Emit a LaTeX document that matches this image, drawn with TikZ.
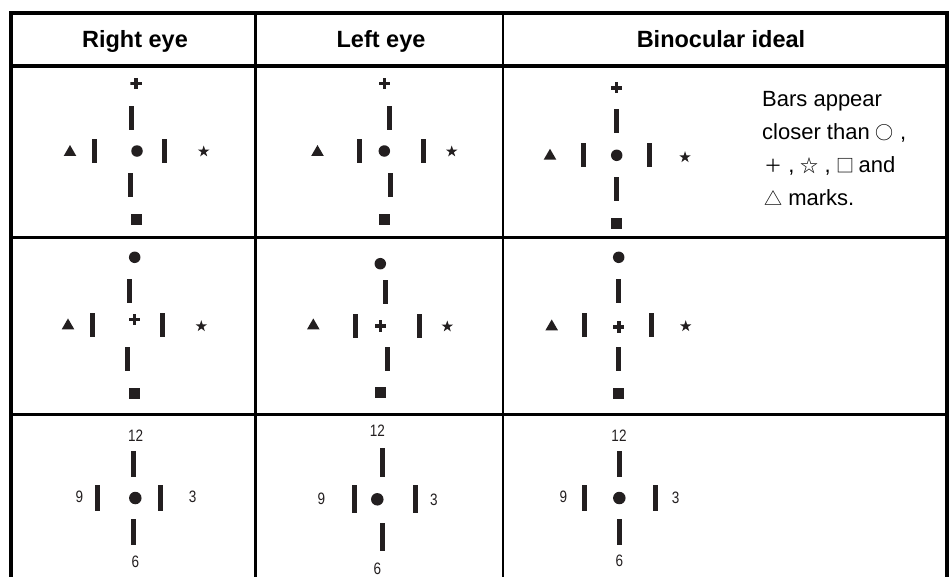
\documentclass[tikz,border=0pt]{standalone}
\usepackage{fontspec}
\setmainfont{Liberation Sans}
\newfontfamily\narrowfont{Liberation Sans}[FakeStretch=0.82]
\newfontfamily\symfont{Noto Sans CJK JP}
\usetikzlibrary{shapes.geometric}
\definecolor{ink}{HTML}{231F20}
\tikzset{
  rule/.style={draw=black, line width=3.5pt},
  thinrule/.style={draw=black, line width=2.3pt},
  vbar/.style={rectangle, fill=ink, inner sep=0pt, minimum width=5pt, minimum height=24pt},
  tbar/.style={vbar, minimum height=25.7pt},
  lbar/.style={vbar, minimum height=28.5pt},
  dotm/.style={circle, fill=ink, inner sep=0pt, minimum size=11.5pt},
  bdot/.style={dotm, minimum size=12.5pt},
  sqm/.style={rectangle, fill=ink, inner sep=0pt, minimum size=11pt},
  trim/.style={regular polygon, regular polygon sides=3, fill=ink, inner sep=0pt, minimum size=14.5pt},
  starm/.style={star, star points=5, star point ratio=2.6, fill=ink, inner sep=0pt, minimum size=12pt},
  plusm/.style={rectangle, inner sep=0pt, minimum size=11.5pt,
    path picture={
      \fill[ink] ([xshift=-1.8pt]path picture bounding box.north) rectangle ([xshift=1.8pt]path picture bounding box.south);
      \fill[ink] ([yshift=1.8pt]path picture bounding box.west) rectangle ([yshift=-1.8pt]path picture bounding box.east);
    }},
  head/.style={font=\bfseries\fontsize{23.5}{27}\selectfont, anchor=base, inner sep=0pt},
  num/.style={font=\narrowfont\fontsize{16.5}{18}\selectfont, text=ink, inner sep=0pt},
  note/.style={font=\fontsize{22}{26}\selectfont, anchor=base west, inner sep=0pt},
}
\newcommand{\sy}[1]{{\symfont\fontsize{18}{20}\selectfont #1}}
\begin{document}
\begin{tikzpicture}[x=1pt,y=-1pt]
\useasboundingbox[fill=white] (0,0) rectangle (949,576);
% table rules
\coordinate (tl) at (9,12.8);   \coordinate (tr) at (949,12.8);
\coordinate (h1l) at (9,66);    \coordinate (h1r) at (949,66);
\coordinate (h2l) at (9,237.5); \coordinate (h2r) at (949,237.5);
\coordinate (h3l) at (9,414.5); \coordinate (h3r) at (949,414.5);
\coordinate (lt) at (11,11);    \coordinate (lb) at (11,580);
\coordinate (rt) at (947,11);   \coordinate (rb) at (947,580);
\coordinate (c1t) at (255.5,12); \coordinate (c1b) at (255.5,580);
\coordinate (c2t) at (503,12);   \coordinate (c2b) at (503,580);
\draw[rule] (tl) -- (tr);
\draw[rule] (h1l) -- (h1r);
\draw[rule] (h2l) -- (h2r);
\draw[rule] (h3l) -- (h3r);
\draw[rule] (lt) -- (lb);
\draw[rule] (rt) -- (rb);
\draw[thinrule] (c1t) -- (c1b);
\draw[thinrule] (c2t) -- (c2b);
% headers
\node[head] (hR) at (135,47.5) {Right eye};
\node[head] (hL) at (381,47.5) {Left eye};
\node[head] (hB) at (721,47.5) {Binocular ideal};
% ---------- row 1 ----------
\node[plusm] (a1p) at (136,83.3) {};
\node[vbar] (a1t) at (131.5,118) {};
\node[trim] (a1tri) at (70,152.3) {};
\node[vbar] (a1l) at (94.8,151) {};
\node[dotm] (a1c) at (137,151) {};
\node[vbar] (a1r) at (164.5,151) {};
\node[starm] (a1s) at (203.7,151.5) {};
\node[vbar] (a1b) at (130.5,185) {};
\node[sqm] (a1q) at (136.5,219.5) {};
\node[plusm] (b1p) at (384.3,83.3) {};
\node[vbar] (b1t) at (389.5,118) {};
\node[trim] (b1tri) at (317.5,152.3) {};
\node[vbar] (b1l) at (359.5,151) {};
\node[dotm] (b1c) at (384.3,151) {};
\node[vbar] (b1r) at (423.5,151) {};
\node[starm] (b1s) at (451.7,151.5) {};
\node[vbar] (b1b) at (390.5,185) {};
\node[sqm] (b1q) at (384.5,219.5) {};
\node[plusm] (c1p) at (616.3,87.7) {};
\node[vbar] (c1t) at (616.2,121) {};
\node[trim] (c1tri) at (550,156) {};
\node[vbar] (c1l) at (583.5,155) {};
\node[dotm] (c1c) at (616.7,155.3) {};
\node[vbar] (c1r) at (649.5,155) {};
\node[starm] (c1s) at (685,157.2) {};
\node[vbar] (c1b) at (616.5,188.7) {};
\node[sqm] (c1q) at (616.5,223.5) {};
\node[note] (n1) at (762,106) {Bars appear};
\node[note] (n2) at (762,139) {closer than \sy{○} ,};
\node[note] (n3) at (764,172) {\sy{＋} , \sy{☆} , \sy{□}\,and};
\node[note] (n4) at (764,205) {\sy{△} marks.};
% ---------- row 2 ----------
\node[dotm] (a2c) at (134.7,257.3) {};
\node[vbar] (a2t) at (129.5,291) {};
\node[trim] (a2tri) at (68,325.7) {};
\node[vbar] (a2l) at (92.5,325) {};
\node[plusm] (a2p) at (134.3,319.3) {};
\node[vbar] (a2r) at (162.5,325) {};
\node[starm] (a2s) at (201.3,326.2) {};
\node[vbar] (a2b) at (127.5,359) {};
\node[sqm] (a2q) at (134.5,393.5) {};
\node[dotm] (b2c) at (380.3,263.7) {};
\node[vbar] (b2t) at (385.5,291.5) {};
\node[trim] (b2tri) at (313.3,325.7) {};
\node[vbar] (b2l) at (355.5,325.5) {};
\node[plusm] (b2p) at (380.3,326) {};
\node[vbar] (b2r) at (419.5,325.5) {};
\node[starm] (b2s) at (447.3,326.5) {};
\node[vbar] (b2b) at (387.5,358.5) {};
\node[sqm] (b2q) at (380.5,392) {};
\node[dotm] (c2c) at (618.7,257.3) {};
\node[vbar] (c2t) at (618.5,291) {};
\node[trim] (c2tri) at (551.7,326.7) {};
\node[vbar] (c2l) at (584.5,325) {};
\node[plusm] (c2p) at (618.7,327) {};
\node[vbar] (c2r) at (651.5,325) {};
\node[starm] (c2s) at (685.7,326.2) {};
\node[vbar] (c2b) at (618.5,359) {};
\node[sqm] (c2q) at (618.5,393.5) {};
% ---------- row 3 ----------
\node[num] (a3n12) at (135.7,435.7) {12};
\node[tbar] (a3t) at (133.5,464) {};
\node[num] (a3n9) at (79.3,497.3) {9};
\node[tbar] (a3l) at (97.5,498) {};
\node[bdot] (a3c) at (135.3,498) {};
\node[tbar] (a3r) at (160.5,498) {};
\node[num] (a3n3) at (192.7,497) {3};
\node[tbar] (a3b) at (133.5,532) {};
\node[num] (a3n6) at (135.3,561.7) {6};
\node[num] (b3n12) at (377.3,431) {12};
\node[lbar] (b3t) at (382.5,462.3) {};
\node[num] (b3n9) at (321.5,499) {9};
\node[lbar] (b3l) at (354.2,499.2) {};
\node[bdot] (b3c) at (377.3,499.3) {};
\node[lbar] (b3r) at (415.5,499.2) {};
\node[num] (b3n3) at (434,500) {3};
\node[lbar] (b3b) at (382.5,537.2) {};
\node[num] (b3n6) at (377.3,568.5) {6};
\node[num] (c3n12) at (619,435.7) {12};
\node[tbar] (c3t) at (619.5,464) {};
\node[num] (c3n9) at (563.3,497.3) {9};
\node[tbar] (c3l) at (584.5,498) {};
\node[bdot] (c3c) at (619.3,498) {};
\node[tbar] (c3r) at (655.2,498) {};
\node[num] (c3n3) at (675.7,498.3) {3};
\node[tbar] (c3b) at (619.5,532) {};
\node[num] (c3n6) at (619.3,561) {6};
\end{tikzpicture}
\end{document}
